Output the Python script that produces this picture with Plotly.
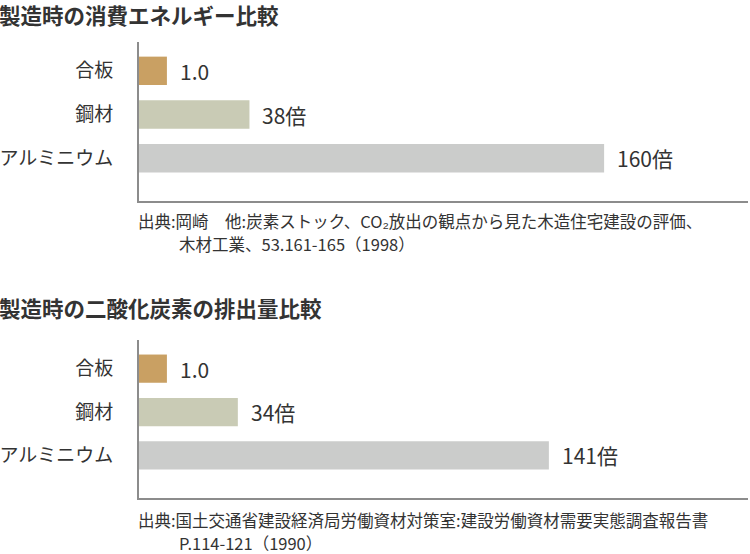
import plotly.graph_objects as go

W, H = 750, 554

materials = ["合板", "鋼材", "アルミニウム"]
energy_ratio = [1.0, 38, 160]
co2_ratio = [1.0, 34, 141]
energy_labels = ["1.0", "38倍", "160倍"]
co2_labels = ["1.0", "34倍", "141倍"]
bar_colors = ["#c9a063", "#c9cbb5", "#cbcccb"]

title_energy = "製造時の消費エネルギー比較"
title_co2 = "製造時の二酸化炭素の排出量比較"
source_energy = ["出典:岡崎　他:炭素ストック、CO₂放出の観点から見た木造住宅建設の評価、",
                 "木材工業、53.161-165（1998）"]
source_co2 = ["出典:国土交通省建設経済局労働資材対策室:建設労働資材需要実態調査報告書",
              "P.114-121（1990）"]

# the reference keeps tiny bars visible with a minimum drawn length
MIN_BAR = 9.6

FONT = "Noto Sans CJK JP, sans-serif"
TXT = "#333333"


def py(px):
    # pixel row -> paper y
    return 1 - px / H


fig = go.Figure()

annotations = []
for i, (vals, labels) in enumerate([(energy_ratio, energy_labels), (co2_ratio, co2_labels)]):
    sfx = "" if i == 0 else "2"
    shown = [max(v, MIN_BAR) for v in vals]
    fig.add_trace(go.Bar(
        x=shown,
        y=materials,
        orientation="h",
        width=0.65,
        marker=dict(color=bar_colors, line=dict(width=0)),
        xaxis="x" + sfx,
        yaxis="y" + sfx,
        hoverinfo="skip",
        showlegend=False,
    ))
    for xv, cat, lab in zip(shown, materials, labels):
        annotations.append(dict(
            x=xv, y=cat, xref="x" + sfx, yref="y" + sfx,
            text=lab, showarrow=False, xanchor="left", yanchor="middle",
            xshift=11, font=dict(size=21, color=TXT, family=FONT),
        ))

for txt, ypx in [(title_energy, 14.5), (title_co2, 307)]:
    annotations.append(dict(
        x=0, y=py(ypx), xref="paper", yref="paper", text="<b>" + txt + "</b>",
        showarrow=False, xanchor="left", yanchor="middle", xshift=-3,
        font=dict(size=21.5, color=TXT, family=FONT),
    ))

for lines, ypx in [(source_energy, 221), (source_co2, 520)]:
    annotations.append(dict(
        x=139 / W, y=py(ypx), xref="paper", yref="paper", text=lines[0],
        showarrow=False, xanchor="left", yanchor="middle", xshift=-3,
        font=dict(size=16.5, color=TXT, family=FONT),
    ))
    annotations.append(dict(
        x=180 / W, y=py(ypx + 22.5), xref="paper", yref="paper", text=lines[1],
        showarrow=False, xanchor="left", yanchor="middle", xshift=-3,
        font=dict(size=16.5, color=TXT, family=FONT),
    ))

xax = dict(range=[0, 209.5], showline=True, linecolor="#8c8c8c", linewidth=2,
           showticklabels=False, showgrid=False, zeroline=False, ticks="",
           domain=[139 / W, 748 / W], fixedrange=True, automargin=False)
yax = dict(range=[2.98, -0.66], showline=True, linecolor="#8c8c8c", linewidth=2,
           showgrid=False, zeroline=False, ticks="", ticklabelstandoff=20,
           tickfont=dict(size=19, color=TXT, family=FONT), fixedrange=True,
           automargin=False)

fig.update_layout(
    width=W, height=H,
    margin=dict(l=0, r=0, t=0, b=0),
    paper_bgcolor="white", plot_bgcolor="white",
    font=dict(family=FONT, color=TXT),
    xaxis=dict(xax, anchor="y"),
    yaxis=dict(yax, anchor="x", domain=[py(201), py(42)]),
    xaxis2=dict(xax, anchor="y2"),
    yaxis2=dict(yax, anchor="x2", domain=[py(498), py(340)]),
    annotations=annotations,
    bargap=0.35,
)

fig.write_html("out.html", config={"displayModeBar": False})

# drop the browser's default body margin so the figure sits at the page corner
with open("out.html", "r", encoding="utf-8") as f:
    html = f.read()
html = html.replace("<head>", "<head><style>html,body{margin:0;padding:0;}</style>", 1)
with open("out.html", "w", encoding="utf-8") as f:
    f.write(html)
